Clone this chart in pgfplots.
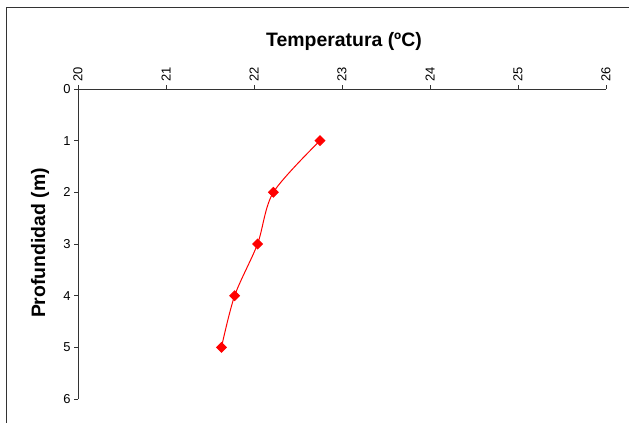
\documentclass[border=0pt]{standalone}
\usepackage{fontspec}
\setmainfont{Liberation Sans}
\usepackage{pgfplots}
\pgfplotsset{compat=1.18}
\begin{document}
\begin{tikzpicture}
\useasboundingbox (0bp,0bp) rectangle (629bp,423bp);
\draw[line width=1bp, black!80] (6bp,0bp) -- (6bp,415bp) -- (629bp,415bp);
\begin{axis}[
  at={(78bp,24bp)}, anchor=south west,
  scale only axis, width=528bp, height=310bp,
  xmin=20, xmax=26, ymin=0, ymax=6, y dir=reverse,
  axis x line=top, axis y line=left,
  axis line style={-, line width=0.8bp, black!80},
  tick align=outside, major tick length=4bp,
  tick style={line width=0.8bp, black!80},
  xtick={20,...,26}, ytick={0,...,6},
  xticklabel style={rotate=90, anchor=west, font=\fontsize{13}{15}\selectfont},
  yticklabel style={font=\fontsize{13}{15}\selectfont},
  /pgf/number format/assume math mode=true,
  clip=false,
]
\addplot[red, line width=1bp, smooth, tension=0.5, mark=square*, mark size=3.4bp, mark options={solid, fill=red, rotate=45}]
coordinates {(22.75,1) (22.22,2) (22.04,3) (21.78,4) (21.63,5)};
\end{axis}
\node[font=\bfseries\fontsize{19.5}{22}\selectfont, anchor=base] at (344bp,376.3bp) {Temperatura (ºC)};
\node[font=\bfseries\fontsize{19.5}{22}\selectfont, rotate=90, anchor=base] at (45bp,180bp) {Profundidad (m)};
\end{tikzpicture}
\end{document}
